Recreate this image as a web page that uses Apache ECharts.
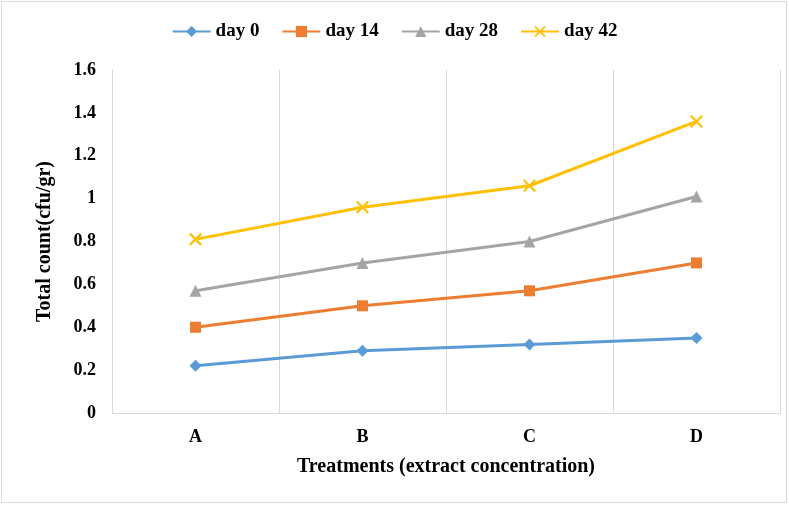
<!DOCTYPE html>
<html><head><meta charset="utf-8">
<script src="https://cdn.jsdelivr.net/npm/echarts@6/dist/echarts.min.js"></script>
<style>html,body{margin:0;padding:0;background:#fff}#c{width:789px;height:505px}</style>
</head><body><div id="c"></div>
<script>
var categories = ['A', 'B', 'C', 'D'];
var day0 = [0.22, 0.29, 0.32, 0.35];
var day14 = [0.40, 0.50, 0.57, 0.70];
var day28 = [0.57, 0.70, 0.80, 1.01];
var day42 = [0.81, 0.96, 1.06, 1.36];
var seriesNames = ['day 0', 'day 14', 'day 28', 'day 42'];
var yTicks = [0, 0.2, 0.4, 0.6, 0.8, 1, 1.2, 1.4, 1.6];

var font = '"Liberation Serif", "Times New Roman", serif';
var xPath = 'path://M0,1.2L1.2,0L5,3.8L8.8,0L10,1.2L6.2,5L10,8.8L8.8,10L5,6.2L1.2,10L0,8.8L3.8,5Z';
var colors = ['#5B9BD5', '#ED7D31', '#A5A5A5', '#FFC000'];
var symbols = ['diamond', 'rect', 'triangle', xPath];
var sizes = [12, 11, 12, 13];
var data = [day0, day14, day28, day42];

var chart = echarts.init(document.getElementById('c'));
chart.setOption({
  animation: false,
  color: colors,
  textStyle: {fontFamily: font},
  graphic: [{type: 'rect', shape: {x: 1.5, y: 1.5, width: 785, height: 501}, style: {fill: 'none', stroke: '#d9d9d9', lineWidth: 1}, z: -1}],
  legend: {
    top: 17, left: 'center', itemGap: 22, itemWidth: 38, itemHeight: 14,
    textStyle: {fontFamily: font, fontWeight: 'bold', fontSize: 19, color: '#000'},
    data: seriesNames
  },
  grid: {left: 112, right: 9, top: 70, bottom: 92},
  xAxis: {
    type: 'category', data: categories, boundaryGap: true,
    axisLine: {lineStyle: {color: '#d9d9d9'}},
    axisTick: {show: false},
    splitLine: {show: true, lineStyle: {color: '#d9d9d9'}},
    axisLabel: {fontFamily: font, fontWeight: 'bold', fontSize: 18, color: '#000', margin: 15},
    name: 'Treatments (extract concentration)', nameLocation: 'middle', nameGap: 44,
    nameTextStyle: {fontFamily: font, fontWeight: 'bold', fontSize: 20, color: '#000'}
  },
  yAxis: {
    type: 'value', min: 0, max: 1.6, interval: 0.2,
    axisLine: {show: true, lineStyle: {color: '#d9d9d9'}},
    axisTick: {show: false},
    splitLine: {show: false},
    axisLabel: {fontFamily: font, fontWeight: 'bold', fontSize: 18, color: '#000', margin: 16,
      formatter: function (v) { return String(Math.round(v * 10) / 10); }},
    name: 'Total count(cfu/gr)', nameLocation: 'middle', nameGap: 57,
    nameTextStyle: {fontFamily: font, fontWeight: 'bold', fontSize: 20, color: '#000'}
  },
  series: seriesNames.map(function (n, i) {
    return {
      name: n, type: 'line', data: data[i],
      symbol: symbols[i], symbolSize: sizes[i], showAllSymbol: true,
      lineStyle: {width: 3, color: colors[i]},
      itemStyle: {color: colors[i]}
    };
  })
});
</script></body></html>
